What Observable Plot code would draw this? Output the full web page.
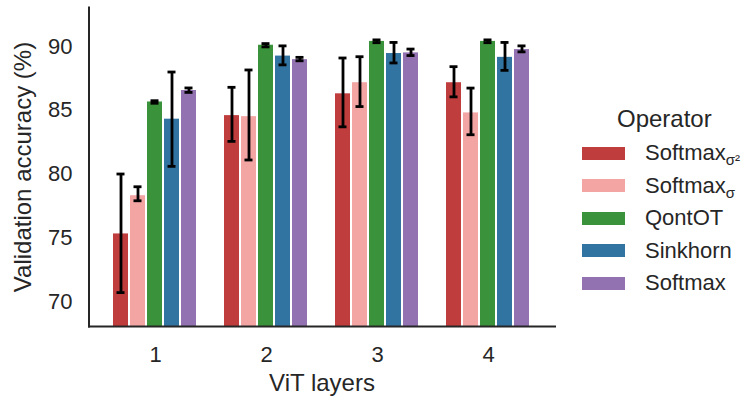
<!DOCTYPE html>
<html>
<head>
<meta charset="utf-8">
<script src="https://cdn.jsdelivr.net/npm/d3@7"></script>
<script src="https://cdn.jsdelivr.net/npm/@observablehq/plot@0.6"></script>
<style>
  html, body { margin: 0; padding: 0; background: #fff; }
  #wrap { position: relative; width: 744px; height: 400px; font-family: "Liberation Sans", Arial, sans-serif; color: #262626; }
  #legend { position: absolute; left: 582px; top: 0; }
  #legend .title { position: absolute; left: 35px; top: 105px; font-size: 24px; white-space: nowrap; }
  #legend .row { position: absolute; left: 0; height: 26px; display: flex; align-items: center; white-space: nowrap; font-size: 22px; }
  #legend .sw { width: 43px; height: 13px; margin-right: 20px; }
  #legend sub { font-size: 15px; vertical-align: -5px; line-height: 0; }
</style>
</head>
<body>
<div id="wrap">
  <div id="chart"></div>
  <div id="legend"></div>
</div>
<script>
// ViT depth (number of layers) on the x axis
const layers = [1, 2, 3, 4];
// Attention operators compared; "_" marks a subscript in the legend
const operators = ["Softmax_σ²", "Softmax_σ", "QontOT", "Sinkhorn", "Softmax"];
const palette = ["#c03d3e", "#f2a5a3", "#3a923a", "#3274a1", "#9372b2"];
const yTicks = [70, 75, 80, 85, 90];

// Validation accuracy (%) per layer count: mean, lower and upper error bound
const softmaxSigma2Mean = [75.3, 84.58, 86.29, 87.16];
const softmaxSigma2Lo   = [70.7, 82.56, 83.7, 86.05];
const softmaxSigma2Hi   = [80.0, 86.8, 89.1, 88.42];

const softmaxSigmaMean = [78.3, 84.5, 87.16, 84.79];
const softmaxSigmaLo   = [77.9, 81.1, 85.29, 83.08];
const softmaxSigmaHi   = [79.0, 88.16, 89.2, 86.74];

const qontotMean = [85.65, 90.1, 90.4, 90.4];
const qontotLo   = [85.55, 89.97, 90.3, 90.3];
const qontotHi   = [85.75, 90.23, 90.52, 90.52];

const sinkhornMean = [84.3, 89.25, 89.45, 89.15];
const sinkhornLo   = [80.6, 88.56, 88.71, 88.13];
const sinkhornHi   = [88.0, 90.05, 90.32, 90.32];

const softmaxMean = [86.55, 88.97, 89.5, 89.76];
const softmaxLo   = [86.4, 88.88, 89.29, 89.58];
const softmaxHi   = [86.75, 89.15, 89.8, 90.05];

const series = [
  [softmaxSigma2Mean, softmaxSigma2Lo, softmaxSigma2Hi],
  [softmaxSigmaMean, softmaxSigmaLo, softmaxSigmaHi],
  [qontotMean, qontotLo, qontotHi],
  [sinkhornMean, sinkhornLo, sinkhornHi],
  [softmaxMean, softmaxLo, softmaxHi]
];

const rows = [];
layers.forEach((layer, i) => {
  operators.forEach((op, j) => {
    const [m, lo, hi] = series[j];
    rows.push({layer, operator: op, mean: m[i], lo: lo[i], hi: hi[i]});
  });
});

const yMin = 68.04, yMax = 93.06;
const ink = "#262626";

// The "super" facet spans the outer edges of the first and last group,
// so the spines are pushed out to the plot margins with negative insets.
const gutter = 22.5;

const chart = Plot.plot({
  width: 744,
  height: 400,
  marginLeft: 88,
  marginRight: 189,
  marginTop: 7,
  marginBottom: 74,
  style: {fontFamily: "'Liberation Sans', Arial, sans-serif", fontSize: "22px", color: ink, background: "#fff"},
  fx: {domain: layers, paddingInner: 0.209, paddingOuter: 0.2025, axis: "bottom", tickSize: 0, tickPadding: 20, label: null},
  x: {domain: operators, paddingInner: 0.11, paddingOuter: 0, axis: null},
  y: {domain: [yMin, yMax], ticks: yTicks, tickSize: 0, tickPadding: 39, label: null},
  color: {domain: operators, range: palette},
  marks: [
    Plot.barY(rows, {fx: "layer", x: "operator", y1: yMin, y2: "mean", fill: "operator"}),
    Plot.ruleX(rows, {fx: "layer", x: "operator", y1: "lo", y2: "hi", stroke: "#000", strokeWidth: 2.8}),
    Plot.tickY(rows, {fx: "layer", x: "operator", y: "lo", stroke: "#000", strokeWidth: 2.8, insetLeft: 3.5, insetRight: 3.5}),
    Plot.tickY(rows, {fx: "layer", x: "operator", y: "hi", stroke: "#000", strokeWidth: 2.8, insetLeft: 3.5, insetRight: 3.5}),
    // left and bottom spines across the whole frame
    Plot.frame({facet: "super", anchor: "bottom", stroke: ink, strokeWidth: 2, insetLeft: -gutter, insetRight: -gutter}),
    Plot.frame({facet: "super", anchor: "left", stroke: ink, strokeWidth: 2, dx: -gutter}),
    // axis titles
    Plot.text(["Validation accuracy (%)"], {facet: "super", frameAnchor: "left", rotate: -90, dx: -88.5, fontSize: 24, textAnchor: "middle", lineAnchor: "middle", fill: ink}),
    Plot.text(["ViT layers"], {facet: "super", frameAnchor: "bottom", dy: 57, fontSize: 24, textAnchor: "middle", lineAnchor: "middle", fill: ink})
  ]
});
document.getElementById("chart").appendChild(chart);

// Legend for the operators
const legend = document.getElementById("legend");
const title = document.createElement("div");
title.className = "title";
title.textContent = "Operator";
legend.appendChild(title);
operators.forEach((op, j) => {
  const row = document.createElement("div");
  row.className = "row";
  row.style.top = (140 + 32.5 * j) + "px";
  const sw = document.createElement("div");
  sw.className = "sw";
  sw.style.background = palette[j];
  const label = document.createElement("span");
  const [base, sub] = op.split("_");
  label.textContent = base;
  if (sub) {
    const s = document.createElement("sub");
    s.textContent = sub;
    label.appendChild(s);
  }
  row.appendChild(sw);
  row.appendChild(label);
  legend.appendChild(row);
});
</script>
</body>
</html>
